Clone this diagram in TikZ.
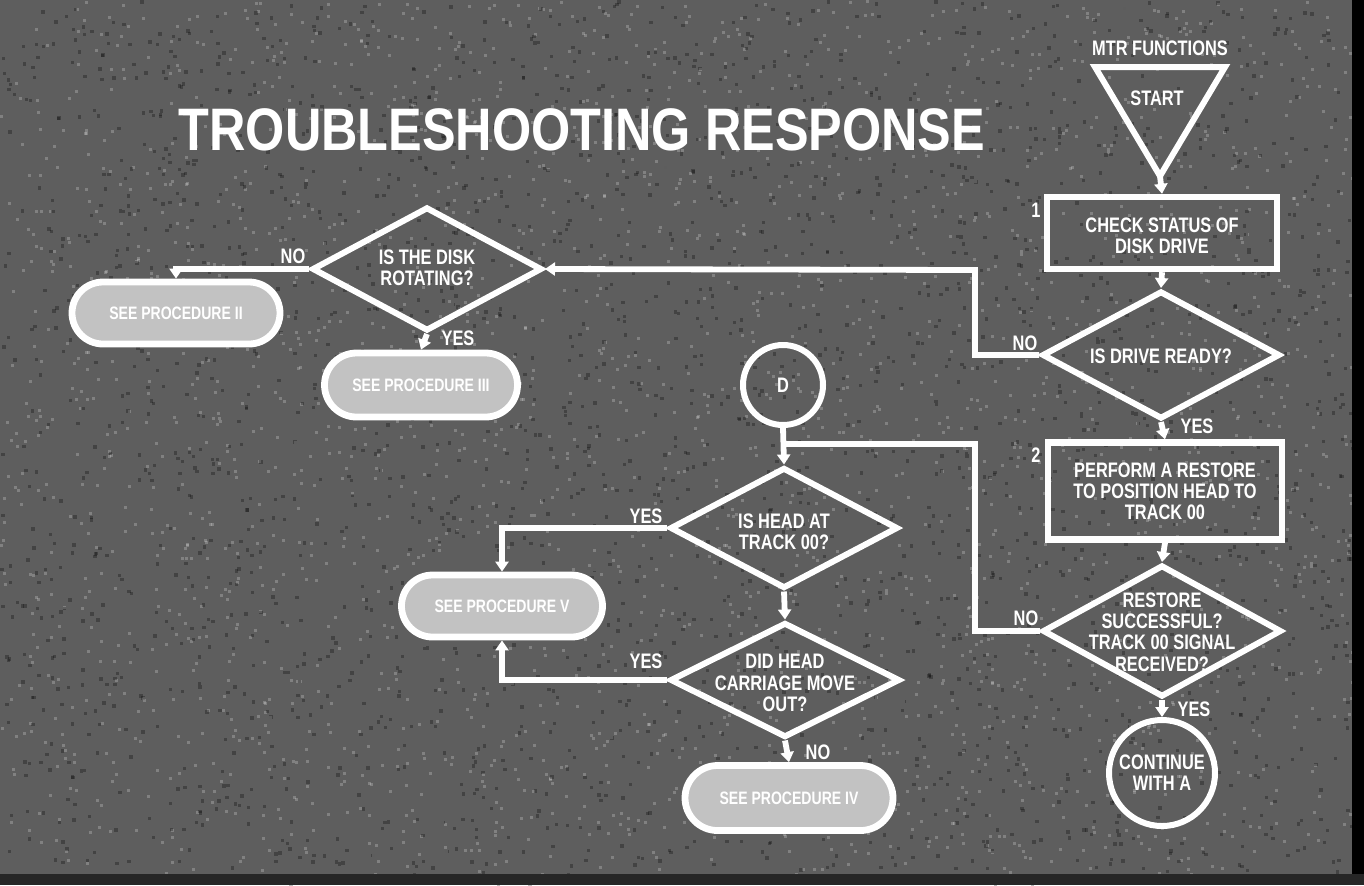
\documentclass[tikz,border=0pt]{standalone}
\usepackage{fontspec}
\newfontfamily\cf[FakeStretch=0.78]{Liberation Sans}
\newfontfamily\tf{Liberation Sans}
\usetikzlibrary{shapes.geometric,shapes.misc,arrows.meta}
\definecolor{bg}{HTML}{5E5E5E}
\definecolor{pillfill}{HTML}{C2C2C2}
\tikzset{
  ln/.style={white, line width=2.9pt},
  arr/.style={ln, -{Triangle[length=5pt,width=6.5pt]}},
  boxn/.style={draw=white, line width=3.2pt, rectangle, inner sep=0pt},
  dia/.style={draw=white, line width=3pt, diamond, inner sep=0pt},
  pill/.style={draw=white, line width=3.4pt, fill=pillfill, rounded rectangle, inner sep=0pt,
    text=white, font=\cf\bfseries\fontsize{9}{10}\selectfont},
  circ/.style={draw=white, line width=3pt, circle, inner sep=0pt},
  txt/.style={text=white, font=\cf\bfseries\fontsize{10.5}{10.6}\selectfont, align=center, inner sep=0pt},
  lbl/.style={text=white, font=\cf\bfseries\fontsize{10.5}{11}\selectfont, inner sep=0pt},
}
\begin{document}
\begin{tikzpicture}[x=0.5pt,y=-0.5pt]
\useasboundingbox (0,0) rectangle (1364,885);
% background
\fill[bg] (0,0) rectangle (1364,885);
\pgfmathsetseed{7}
\foreach \i in {1,...,2600}{\fill[white,opacity=0.22] ({rnd*1364},{rnd*885}) rectangle ++(3,3);}
\foreach \i in {1,...,2600}{\fill[black,opacity=0.28] ({rnd*1364},{rnd*885}) rectangle ++(3.4,3.4);}
\fill[black] (1352,0) rectangle (1364,885);
\fill[black!85] (0,874) rectangle (1364,885);

% title
\node[text=white, font=\tf\bfseries\fontsize{30}{32}\selectfont, inner sep=0pt] (title) at (582,130)
  {\scalebox{0.84}[1]{TROUBLESHOOTING RESPONSE}};

% start triangle
\node[lbl] (mtr) at (1160,48) {MTR FUNCTIONS};
\coordinate (t1) at (1095,67);
\coordinate (t2) at (1225,67);
\coordinate (t3) at (1160,176);
\draw[white, line width=3pt, line join=miter] (t1) -- (t2) -- (t3) -- cycle;
\node[lbl] (start) at (1157,98) {START};

% right column
\node[boxn, minimum width=115pt, minimum height=36pt] (b1) at (1162,233) {};
\node[txt] (b1t) at (1162,236) {CHECK STATUS OF\\DISK DRIVE};
\node[lbl] (n1) at (1036,210) {1};

\node[dia, minimum width=119pt, minimum height=64pt] (dr) at (1161,355) {};
\node[txt] (drt) at (1161,356) {IS DRIVE READY?};
\node[lbl] (drno) at (1025,343) {NO};
\node[lbl] (dryes) at (1197,426) {YES};

\node[boxn, minimum width=117pt, minimum height=48.5pt] (b2) at (1165,491) {};
\node[txt] (b2t) at (1165,491) {PERFORM A RESTORE\\TO POSITION HEAD TO\\TRACK 00};
\node[lbl] (n2) at (1036,455) {2};

\node[dia, minimum width=119.5pt, minimum height=66pt] (d3) at (1162,631) {};
\node[txt] (d3t) at (1162,632) {RESTORE\\SUCCESSFUL?\\TRACK 00 SIGNAL\\RECEIVED?};
\node[lbl] (d3no) at (1026,618) {NO};
\node[lbl] (d3yes) at (1194,709) {YES};

\node[circ, minimum size=53pt] (ca) at (1162,773) {};
\node[txt] (cat) at (ca) {CONTINUE\\WITH A};

% disk rotating
\node[dia, minimum width=115pt, minimum height=62pt] (dd) at (427,269) {};
\node[txt] (ddt) at (427,268) {IS THE DISK\\ROTATING?};
\node[lbl] (ddno) at (293,256) {NO};
\node[lbl] (ddyes) at (458,338) {YES};
\node[pill, minimum width=104pt, minimum height=31pt] (p2) at (176,313) {SEE PROCEDURE II};
\node[pill, minimum width=96.5pt, minimum height=32pt] (p3) at (421,385) {SEE PROCEDURE III};

% middle
\node[circ, minimum size=40pt] (cd) at (783,385) {};
\node[lbl] (cdt) at (cd) {D};
\coordinate (j) at (783,444);

\node[dia, minimum width=114pt, minimum height=60.5pt] (dh) at (784,528) {};
\node[txt] (dht) at (784,532) {IS HEAD AT\\TRACK 00?};
\node[lbl] (dhyes) at (646,516) {YES};

\node[dia, minimum width=115pt, minimum height=57.5pt] (dc) at (785,680) {};
\node[txt] (dct) at (785,683) {DID HEAD\\CARRIAGE MOVE\\OUT?};
\node[lbl] (dcyes) at (646,661) {YES};
\node[lbl] (dcno) at (818,752) {NO};

\node[pill, minimum width=100.5pt, minimum height=31pt] (p5) at (502,606) {SEE PROCEDURE V};
\node[pill, minimum width=104pt, minimum height=32.5pt] (p4) at (789,798) {SEE PROCEDURE IV};

% helper coordinates
\coordinate (c1) at (975,270);
\coordinate (c3) at (975,444);

% connectors
\draw[arr] (t3) -- (b1.north);
\draw[arr] (b1.south) -- (dr.north);
\draw[arr] (dr.south) -- (b2.north);
\draw[arr] (b2.south) -- (d3.north);
\draw[arr] (d3.south) -- (ca.north);
\draw[arr] (dr.west) -| (c1) -- (dd.east);
\draw[ln] (d3.west) -| (c3) -- (j);
\draw[arr] (dd.west) -| (p2.north);
\draw[arr] (dd.south) -- (p3.north);
\draw[arr] (cd.south) -- (dh.north);
\draw[arr] (dh.south) -- (dc.north);
\draw[arr] (dh.west) -| (p5.north);
\draw[arr] (dc.west) -| (p5.south);
\draw[arr] (dc.south) -- (p4.north);
\end{tikzpicture}
\end{document}
